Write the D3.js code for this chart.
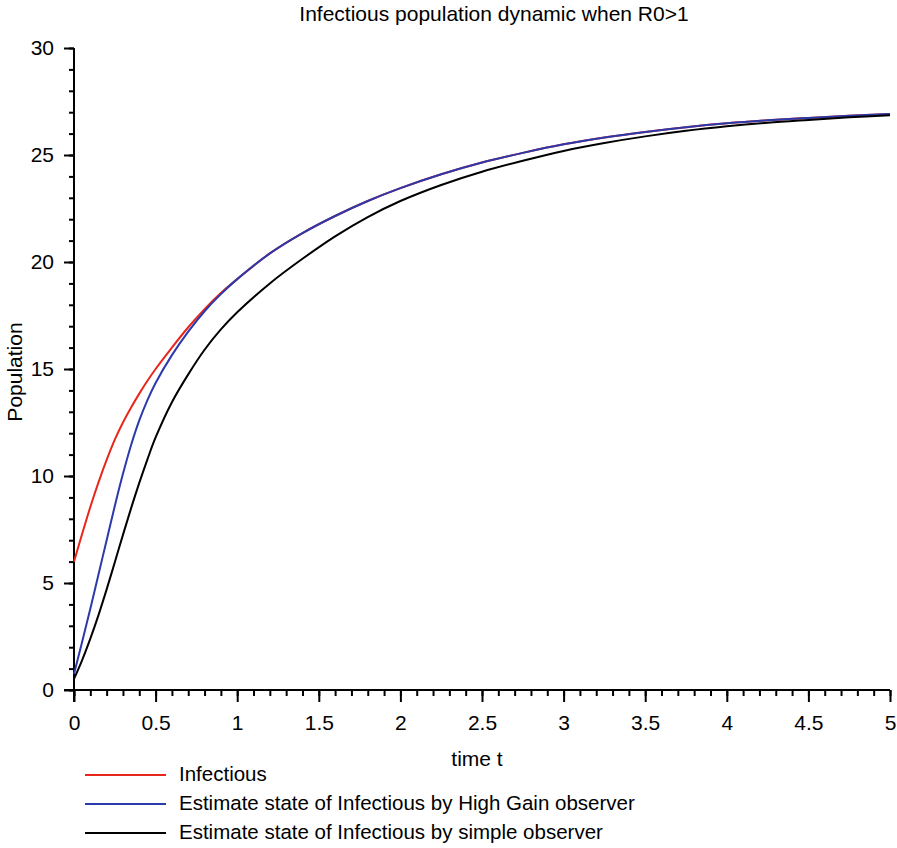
<!DOCTYPE html>
<html>
<head>
<meta charset="utf-8">
<script src="https://cdn.jsdelivr.net/npm/d3@7"></script>
<style>
  body { margin: 0; background: #fff; }
  text { font-family: "Liberation Sans", sans-serif; fill: #000; }
</style>
</head>
<body>
<svg id="chart" width="897" height="848"></svg>
<script>
var margin = {top: 48, left: 74, right: 7, bottom: 158},
	width = 897 - margin.left - margin.right,
	height = 848 - margin.top - margin.bottom;

// time samples
var times = [0, 0.05, 0.1, 0.15, 0.2, 0.25, 0.3, 0.35, 0.4, 0.45, 0.5, 0.6, 0.7, 0.8, 0.9, 1.0,
	1.2, 1.4, 1.6, 1.8, 2.0, 2.25, 2.5, 2.75, 3.0, 3.25, 3.5, 3.75, 4.0, 4.25, 4.5, 4.75, 5.0];

var infectious = [6.0, 7.3, 8.55, 9.7, 10.75, 11.7, 12.5, 13.2, 13.85, 14.45, 15.0, 16.0, 16.95, 17.8, 18.55, 19.2,
	20.4, 21.35, 22.15, 22.85, 23.45, 24.1, 24.65, 25.1, 25.5, 25.82, 26.08, 26.3, 26.48, 26.62, 26.73, 26.83, 26.92];

var highGain = [0.75, 2.25, 3.8, 5.4, 7.0, 8.6, 10.1, 11.45, 12.6, 13.55, 14.35, 15.65, 16.75, 17.7, 18.5, 19.2,
	20.4, 21.35, 22.15, 22.85, 23.45, 24.1, 24.65, 25.1, 25.5, 25.82, 26.08, 26.3, 26.48, 26.62, 26.73, 26.83, 26.92];

var simple = [0.52, 1.4, 2.4, 3.5, 4.7, 5.97, 7.25, 8.5, 9.68, 10.78, 11.8, 13.45, 14.75, 15.9, 16.85, 17.65,
	19.0, 20.15, 21.2, 22.1, 22.85, 23.6, 24.22, 24.73, 25.19, 25.56, 25.87, 26.13, 26.34, 26.51, 26.64, 26.76, 26.86];

var seriesNames = ["Infectious", "Estimate state of Infectious by High Gain observer", "Estimate state of Infectious by simple observer"];
var seriesColors = ["#e8261c", "#2b3aaa", "#000000"];
var xTicks = [0, 0.5, 1, 1.5, 2, 2.5, 3, 3.5, 4, 4.5, 5];
var yTicks = [0, 5, 10, 15, 20, 25, 30];

var svg = d3.select("#chart");
var g = svg.append("g")
	.attr("transform", "translate(" + margin.left + ", " + margin.top + ")");

var x = d3.scaleLinear().domain([0, 5]).range([0, width]);
var y = d3.scaleLinear().domain([0, 30]).range([height, 0]);

// minor ticks first, then the major ones with labels
g.append("g")
	.attr("transform", "translate(0," + height + ")")
	.call(d3.axisBottom(x).tickValues(d3.range(0, 51).map(function(i) { return i / 10; }))
		.tickSize(6).tickFormat(""))
	.call(function(a) { a.select(".domain").remove(); });

var xAxis = g.append("g")
	.attr("transform", "translate(0," + height + ")")
	.call(d3.axisBottom(x).tickValues(xTicks).tickSize(12).tickPadding(13)
		.tickFormat(function(d) { return d3.format("")(d); }));

g.append("g")
	.call(d3.axisLeft(y).tickValues(d3.range(0, 31)).tickSize(5).tickFormat(""))
	.call(function(a) { a.select(".domain").remove(); });

var yAxis = g.append("g")
	.call(d3.axisLeft(y).tickValues(yTicks).tickSize(10).tickPadding(10));

xAxis.select(".domain").remove();
yAxis.select(".domain").remove();
g.append("line").attr("x1", -10).attr("x2", width).attr("y1", height).attr("y2", height)
	.attr("stroke", "#000").attr("stroke-width", 2);
g.append("line").attr("x1", 0).attr("x2", 0).attr("y1", 0).attr("y2", height + 12)
	.attr("stroke", "#000").attr("stroke-width", 2);
g.selectAll(".tick line").attr("stroke", "#000").attr("stroke-width", 2);
g.selectAll(".tick text").style("font-size", "21px").attr("fill", "#000");

var line = d3.line()
	.x(function(d) { return x(d[0]); })
	.y(function(d) { return y(d[1]); })
	.curve(d3.curveCatmullRom.alpha(0.5));

var allSeries = [infectious, highGain, simple];
for (var i = 0; i < allSeries.length; i++) {
	var pts = times.map(function(t, j) { return [t, allSeries[i][j]]; });
	g.append("path")
		.datum(pts)
		.attr("fill", "none")
		.attr("stroke", seriesColors[i])
		.attr("stroke-width", 2)
		.attr("d", line);
}

svg.append("text")
	.attr("x", 494).attr("y", 21)
	.attr("text-anchor", "middle")
	.style("font-size", "21px")
	.text("Infectious population dynamic when R0>1");

svg.append("text")
	.attr("x", 477).attr("y", 766)
	.attr("text-anchor", "middle")
	.style("font-size", "21px")
	.text("time t");

svg.append("text")
	.attr("transform", "translate(22,372) rotate(-90)")
	.attr("text-anchor", "middle")
	.style("font-size", "21px")
	.text("Population");

var legend = svg.append("g");
seriesNames.forEach(function(name, i) {
	var ly = 775 + i * 29;
	legend.append("line")
		.attr("x1", 85).attr("x2", 166).attr("y1", ly).attr("y2", ly)
		.attr("stroke", seriesColors[i]).attr("stroke-width", 2);
	legend.append("text")
		.attr("x", 179).attr("y", ly + 6)
		.style("font-size", "20.5px")
		.text(name);
});
</script>
</body>
</html>
